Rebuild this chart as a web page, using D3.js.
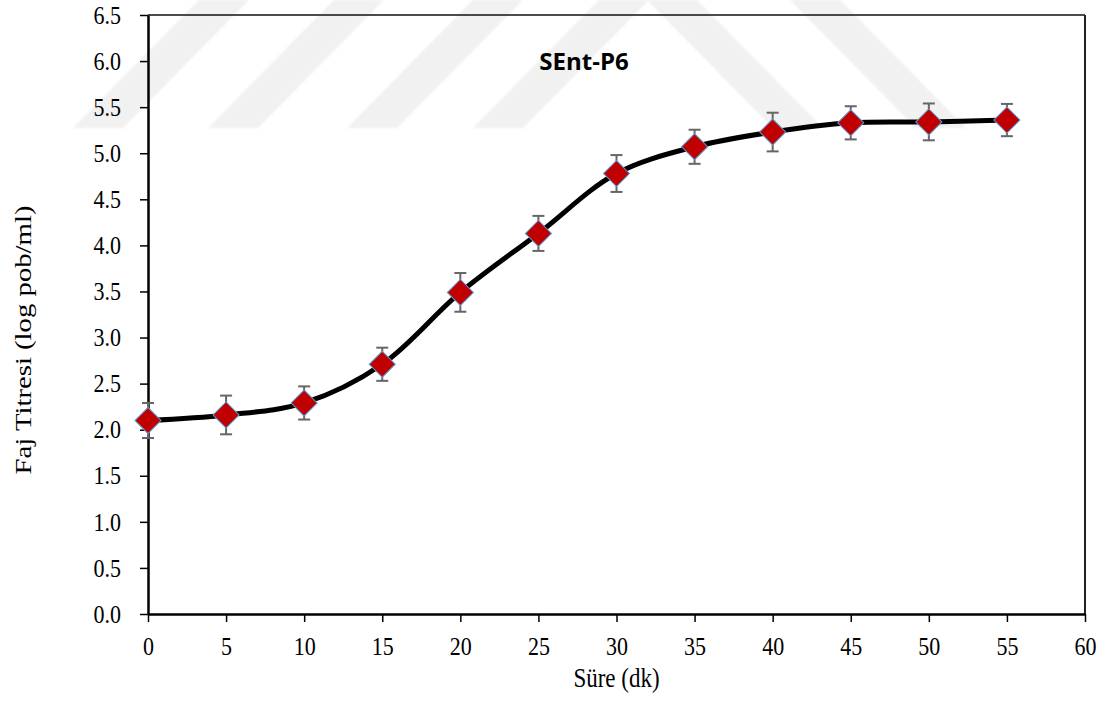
<!DOCTYPE html>
<html>
<head>
<meta charset="utf-8">
<script src="https://cdn.jsdelivr.net/npm/d3@7"></script>
<style>
  html, body { margin: 0; padding: 0; background: #fff; }
  svg { display: block; }
  .tall { transform-box: fill-box; transform-origin: center; }
</style>
</head>
<body>
<svg id="chart" width="1114" height="724"></svg>
<script>
// Phage titre over time (SEnt-P6)
const timeMin = [0, 5, 10, 15, 20, 25, 30, 35, 40, 45, 50, 55];
const titerLog = [2.10, 2.16, 2.29, 2.71, 3.49, 4.13, 4.78, 5.07, 5.23, 5.33, 5.34, 5.36];
const titerErr = [0.19, 0.21, 0.18, 0.18, 0.21, 0.19, 0.20, 0.185, 0.21, 0.18, 0.20, 0.175];

const xTickValues = [0, 5, 10, 15, 20, 25, 30, 35, 40, 45, 50, 55, 60];
const yTickValues = [0, 0.5, 1, 1.5, 2, 2.5, 3, 3.5, 4, 4.5, 5, 5.5, 6, 6.5];

const chartTitle = "SEnt-P6";
const xTitle = "Süre (dk)";
const yTitle = "Faj Titresi (log pob/ml)";

// faint background stripes (left x of each band at its bottom / top edge)
const risingBands = [73, 208, 347, 473];
const fallingBands = [647, 790];

const svg = d3.select("#chart");
const W = 1114, H = 724;
const plot = { left: 148, right: 1085, top: 15, bottom: 614 };

svg.append("rect").attr("width", W).attr("height", H).attr("fill", "#fff");

// soft edge for the background stripes
svg.append("defs").append("filter").attr("id", "soft")
  .append("feGaussianBlur").attr("stdDeviation", 1.2);

// background stripes
const band = { h: 128, w: 50, run: 126 };
const bg = svg.append("g").attr("fill", "#f1f1f1").attr("filter", "url(#soft)");
bg.selectAll("polygon.rise").data(risingBands).join("polygon")
  .attr("class", "rise")
  .attr("points", b => [[b, band.h], [b + band.w, band.h], [b + band.w + band.run, 0], [b + band.run, 0]].join(" "));
bg.selectAll("polygon.fall").data(fallingBands).join("polygon")
  .attr("class", "fall")
  .attr("points", t => [[t, 0], [t + band.w, 0], [t + band.w + band.run, band.h], [t + band.run, band.h]].join(" "));

const x = d3.scaleLinear().domain([0, 60]).range([plot.left, plot.right]);
const y = d3.scaleLinear().domain([0, 6.5]).range([plot.bottom, plot.top]);

const serif = "'Liberation Serif', 'Times New Roman', serif";

// plot frame: top and right edges
svg.append("line")
  .attr("x1", plot.left).attr("x2", plot.right)
  .attr("y1", plot.top).attr("y2", plot.top)
  .attr("stroke", "#111").attr("stroke-width", 1.5);
svg.append("line")
  .attr("x1", plot.right).attr("x2", plot.right)
  .attr("y1", plot.top).attr("y2", plot.bottom)
  .attr("stroke", "#222").attr("stroke-width", 2);

// axes
const yAxis = svg.append("g")
  .attr("transform", `translate(${plot.left},0)`)
  .call(d3.axisLeft(y).tickValues(yTickValues).tickFormat(d3.format(".1f")).tickSize(8).tickSizeOuter(0).tickPadding(19));
const xAxis = svg.append("g")
  .attr("transform", `translate(0,${plot.bottom})`)
  .call(d3.axisBottom(x).tickValues(xTickValues).tickFormat(d3.format("d")).tickSize(8).tickSizeOuter(0).tickPadding(16));

[xAxis, yAxis].forEach(g => {
  g.attr("font-family", null);
  g.select(".domain").attr("stroke", "#000").attr("stroke-width", 2.5);
  g.selectAll(".tick line").attr("stroke", "#000").attr("stroke-width", 1.5);
  g.selectAll(".tick text")
    .attr("fill", "#000")
    .attr("class", "tall")
    .attr("transform", "scale(1,1.15)")
    .style("font-family", serif)
    .style("font-size", "22px");
});

// smoothed curve
const line = d3.line()
  .x((d, i) => x(timeMin[i]))
  .y(d => y(d))
  .curve(d3.curveCatmullRom.alpha(0.5));

svg.append("path")
  .datum(titerLog)
  .attr("d", line)
  .attr("fill", "none")
  .attr("stroke", "#000")
  .attr("stroke-width", 5)
  .attr("stroke-linejoin", "round");

// error bars
const pts = timeMin.map((t, i) => ({ t, v: titerLog[i], e: titerErr[i] }));
const eb = svg.append("g").attr("stroke", "#666").attr("stroke-width", 2);
const capHalf = 6;
eb.selectAll("g").data(pts).join("g").each(function (d) {
  const g = d3.select(this);
  const cx = x(d.t), y1 = y(d.v + d.e), y2 = y(d.v - d.e);
  g.append("line").attr("x1", cx).attr("x2", cx).attr("y1", y1).attr("y2", y2);
  g.append("line").attr("x1", cx - capHalf).attr("x2", cx + capHalf).attr("y1", y1).attr("y2", y1);
  g.append("line").attr("x1", cx - capHalf).attr("x2", cx + capHalf).attr("y1", y2).attr("y2", y2);
});

// diamond markers (square rotated 45 degrees)
const diamond = d3.symbol().type(d3.symbolSquare).size(340);
svg.append("g").selectAll("path").data(pts).join("path")
  .attr("d", diamond)
  .attr("transform", d => `translate(${x(d.t)},${y(d.v)}) rotate(45)`)
  .attr("fill", "#C00000")
  .attr("stroke", "#5B9BD5")
  .attr("stroke-width", 1);

// chart title inside the plot
svg.append("text")
  .attr("x", 584).attr("y", 70)
  .attr("text-anchor", "middle")
  .style("font-family", "'Open Sans', 'Noto Sans', sans-serif")
  .style("font-weight", "bold")
  .style("font-size", "24px")
  .attr("fill", "#000")
  .text(chartTitle);

// axis titles
svg.append("text")
  .attr("class", "tall")
  .attr("x", (plot.left + plot.right) / 2).attr("y", 685)
  .attr("transform", "scale(1,1.2)")
  .attr("text-anchor", "middle")
  .style("font-family", serif).style("font-size", "23px")
  .attr("fill", "#000")
  .text(xTitle);

svg.append("g")
  .attr("transform", "translate(31,340) rotate(-90)")
  .append("text")
  .attr("class", "tall")
  .attr("transform", "scale(1.25,1)")
  .attr("text-anchor", "middle")
  .style("font-family", serif).style("font-size", "23px")
  .attr("fill", "#000")
  .text(yTitle);
</script>
</body>
</html>
